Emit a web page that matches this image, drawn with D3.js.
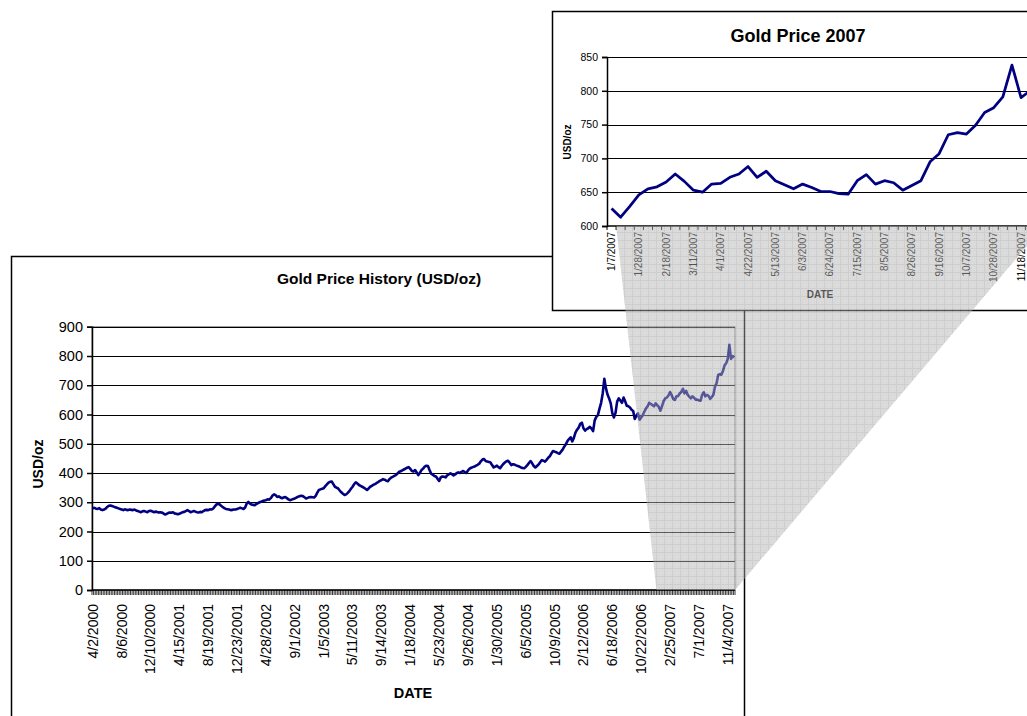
<!DOCTYPE html>
<html lang="en">
<head>
<meta charset="UTF-8">
<title>Gold Price History</title>
<script src="https://d3js.org/d3.v7.min.js"></script>
<style>
  body { margin: 0; background: #fff; }
  svg { display: block; font-family: "Liberation Sans", Arial, sans-serif; }
</style>
</head>
<body>
<script>
// weekly gold price, USD/oz (weeks starting 4/2/2000)
const prices2000 = [279, 281, 278, 277, 280, 275, 273, 275, 278, 284, 288, 289, 287, 285, 283, 281, 279, 277, 275, 273,
  276, 274, 273, 275, 274, 273, 275, 272, 270, 268, 266, 269, 270, 268, 266, 270, 271, 269, 266, 268];
const prices2001 = [267, 265, 266, 265, 262, 258, 260, 263, 265, 264, 266, 262, 261, 259, 261, 263, 266, 267, 270, 273,
  270, 266, 268, 270, 268, 266, 265, 267, 266, 270, 273, 274, 273, 276, 275, 278, 285, 292, 294, 293,
  288, 284, 280, 277, 276, 275, 273, 274, 275, 275, 277, 279];
const prices2002 = [281, 279, 277, 282, 296, 301, 295, 292, 291, 290, 294, 297, 300, 302, 304, 306, 307, 310, 309, 314,
  322, 327, 324, 318, 320, 316, 314, 316, 318, 314, 310, 307, 309, 311, 313, 316, 319, 321, 322, 321,
  317, 313, 315, 317, 318, 317, 316, 322, 333, 342, 344, 346];
const prices2003 = [348, 355, 361, 367, 370, 371, 362, 353, 350, 347, 340, 334, 329, 325, 327, 332, 338, 346, 353, 362,
  368, 364, 359, 356, 353, 350, 346, 342, 347, 353, 356, 360, 362, 366, 369, 373, 376, 379, 377, 374,
  372, 379, 384, 387, 390, 393, 398, 404, 406, 409, 412, 415];
const prices2004 = [418, 420, 414, 407, 405, 410, 402, 393, 401, 410, 415, 422, 425, 424, 410, 398, 394, 390, 388, 380,
  373, 385, 388, 387, 385, 392, 395, 399, 396, 392, 395, 400, 402, 400, 404, 407, 403, 400, 409, 415,
  418, 420, 422, 425, 428, 432, 440, 446, 448, 441, 439, 438];
const prices2005 = [436, 427, 419, 422, 425, 420, 416, 424, 431, 436, 440, 442, 435, 427, 430, 429, 426, 424, 422, 419,
  417, 416, 421, 427, 434, 441, 433, 424, 419, 424, 429, 437, 444, 442, 439, 445, 452, 457, 467, 475,
  473, 471, 468, 466, 473, 480, 490, 498, 509, 516, 522, 508];
const prices2006 = [520, 538, 548, 555, 568, 572, 553, 545, 550, 553, 558, 552, 543, 580, 592, 598, 620, 640, 672, 722,
  690, 668, 655, 638, 604, 590, 606, 644, 655, 648, 640, 658, 645, 630, 628, 624, 616, 612, 585, 596,
  604, 582, 590, 598, 610, 621, 628, 640, 636, 632, 628, 638, 632];
const prices2007 = [626, 613, 629, 646, 655, 658, 665, 677, 666, 653, 650, 662, 663, 672, 677, 688, 672, 681, 667, 661,
  655, 662, 657, 651, 651, 648, 647, 667, 676, 662, 667, 664, 653, 660, 667, 695, 707, 735, 738, 736,
  749, 768, 775, 791, 838, 790, 800, 795];

const mainTickLabels = ["4/2/2000", "8/6/2000", "12/10/2000", "4/15/2001", "8/19/2001", "12/23/2001", "4/28/2002",
  "9/1/2002", "1/5/2003", "5/11/2003", "9/14/2003", "1/18/2004", "5/23/2004", "9/26/2004", "1/30/2005",
  "6/5/2005", "10/9/2005", "2/12/2006", "6/18/2006", "10/22/2006", "2/25/2007", "7/1/2007", "11/4/2007"];
const insetTickLabels = ["1/7/2007", "1/28/2007", "2/18/2007", "3/11/2007", "4/1/2007", "4/22/2007", "5/13/2007",
  "6/3/2007", "6/24/2007", "7/15/2007", "8/5/2007", "8/26/2007", "9/16/2007", "10/7/2007", "10/28/2007", "11/18/2007"];
const mainYTicks = [0, 100, 200, 300, 400, 500, 600, 700, 800, 900];
const insetYTicks = [600, 650, 700, 750, 800, 850];

const fmt = d3.timeFormat("%-m/%-d/%Y");
const firstWeek = new Date(2000, 3, 2);
const prices = [].concat(prices2000, prices2001, prices2002, prices2003, prices2004, prices2005, prices2006, prices2007);
const weeks = prices.map((p, i) => fmt(d3.timeWeek.offset(firstWeek, i)));
const data = weeks.map((w, i) => ({week: w, value: prices[i]}));
const data2007 = data.slice(weeks.indexOf("1/7/2007"));

const navy = "#000080";

const svg = d3.select("body").append("svg")
    .attr("width", 1027)
    .attr("height", 716);

const defs = svg.append("defs");
const pat = defs.append("pattern")
    .attr("id", "hatch")
    .attr("patternUnits", "userSpaceOnUse")
    .attr("width", 8).attr("height", 8);
pat.append("rect").attr("width", 8).attr("height", 8).attr("fill", "#b6b6b6");
pat.append("path").attr("d", "M0,0.5H8M0.5,0V8").attr("stroke", "#9c9c9c").attr("stroke-width", 1);
pat.append("path").attr("d", "M3,3h1v1h-1zM6,6h1v1h-1zM2,6h1v1h-1zM6,2h1v1h-1z").attr("fill", "#a4a4a4");

// ---------- main chart ----------
const main = svg.append("g");
main.append("rect")
    .attr("x", 11.5).attr("y", 256.5)
    .attr("width", 733).attr("height", 480)
    .attr("fill", "#fff").attr("stroke", "#000").attr("stroke-width", 1.5);

main.append("text")
    .attr("x", 379).attr("y", 284)
    .attr("text-anchor", "middle")
    .attr("font-size", 15.5).attr("font-weight", "bold")
    .text("Gold Price History (USD/oz)");

const x = d3.scaleBand().domain(weeks).range([92, 735]);
const y = d3.scaleLinear().domain([0, 900]).range([590, 326.75]);

main.append("rect")
    .attr("x", 92).attr("y", y(900))
    .attr("width", 735 - 92).attr("height", y(0) - y(900))
    .attr("fill", "none").attr("stroke", "#808080");

main.selectAll(".grid")
    .data(mainYTicks.filter(d => d > 0))
    .enter()
    .append("line")
    .attr("x1", 92).attr("x2", 735)
    .attr("y1", d => Math.round(y(d)) + 0.5)
    .attr("y2", d => Math.round(y(d)) + 0.5)
    .attr("stroke", "#000");

const yAxis = main.append("g")
    .attr("transform", "translate(92,0)")
    .call(d3.axisLeft(y).tickValues(mainYTicks).tickSize(5).tickPadding(4));
yAxis.attr("font-size", 14.5).attr("font-family", null);
yAxis.selectAll("text").attr("fill", "#000");
yAxis.selectAll("line, path").attr("stroke", "#000").attr("stroke-width", 1.5);

// one tick per week
main.selectAll(".xtick")
    .data(weeks.concat(["end"]))
    .enter()
    .append("line")
    .attr("x1", d => d === "end" ? 735 : x(d))
    .attr("x2", d => d === "end" ? 735 : x(d))
    .attr("y1", y(0)).attr("y2", y(0) + 5)
    .attr("stroke", "#000").attr("stroke-width", 0.8);
main.append("line")
    .attr("x1", 92).attr("x2", 735)
    .attr("y1", y(0)).attr("y2", y(0))
    .attr("stroke", "#000").attr("stroke-width", 1.5);

main.selectAll(".xlabel")
    .data(mainTickLabels)
    .enter()
    .append("text")
    .attr("transform", d => "translate(" + (x(d) + x.bandwidth() / 2) + ",604) rotate(-90)")
    .attr("dy", "0.35em")
    .attr("text-anchor", "end")
    .attr("font-size", 14)
    .text(d => d);

main.append("text")
    .attr("x", 413).attr("y", 698)
    .attr("text-anchor", "middle")
    .attr("font-size", 14.5).attr("font-weight", "bold")
    .text("DATE");
main.append("text")
    .attr("transform", "translate(38,464) rotate(-90)")
    .attr("dy", "0.35em")
    .attr("text-anchor", "middle")
    .attr("font-size", 14).attr("font-weight", "bold")
    .text("USD/oz");

main.append("path")
    .datum(data)
    .attr("fill", "none")
    .attr("stroke", navy)
    .attr("stroke-width", 2.6)
    .attr("stroke-linejoin", "round")
    .attr("d", d3.line().x(d => x(d.week) + x.bandwidth() / 2).y(d => y(d.value)));

// ---------- 2007 inset ----------
const inset = svg.append("g");
inset.append("rect")
    .attr("x", 552.5).attr("y", 11.5)
    .attr("width", 500).attr("height", 299)
    .attr("fill", "#fff").attr("stroke", "#000").attr("stroke-width", 1.5);

inset.append("text")
    .attr("x", 798).attr("y", 42)
    .attr("text-anchor", "middle")
    .attr("font-size", 18).attr("font-weight", "bold")
    .text("Gold Price 2007");

const xi = d3.scaleBand().domain(data2007.map(d => d.week)).range([607, 607 + data2007.length * 9.1]);
const yi = d3.scaleLinear().domain([600, 850]).range([226, 57]);

inset.selectAll(".grid")
    .data(insetYTicks.filter(d => d > 600))
    .enter()
    .append("line")
    .attr("x1", 607).attr("x2", xi.range()[1])
    .attr("y1", d => Math.round(yi(d)) + 0.5)
    .attr("y2", d => Math.round(yi(d)) + 0.5)
    .attr("stroke", "#000");

const yiAxis = inset.append("g")
    .attr("transform", "translate(607,0)")
    .call(d3.axisLeft(yi).tickValues(insetYTicks).tickSize(5).tickPadding(4));
yiAxis.attr("font-size", 10.5).attr("font-family", null);
yiAxis.selectAll("text").attr("fill", "#000");
yiAxis.selectAll("line, path").attr("stroke", "#000").attr("stroke-width", 1.5);

inset.selectAll(".xtick")
    .data(xi.domain())
    .enter()
    .append("line")
    .attr("x1", d => xi(d)).attr("x2", d => xi(d))
    .attr("y1", yi(600)).attr("y2", yi(600) + 4)
    .attr("stroke", "#000");
inset.append("line")
    .attr("x1", 607).attr("x2", xi.range()[1])
    .attr("y1", yi(600)).attr("y2", yi(600))
    .attr("stroke", "#000").attr("stroke-width", 1.5);

inset.selectAll(".xlabel")
    .data(insetTickLabels)
    .enter()
    .append("text")
    .attr("transform", d => "translate(" + (xi(d) + xi.bandwidth() / 2) + ",232) rotate(-90)")
    .attr("dy", "0.35em")
    .attr("text-anchor", "end")
    .attr("font-size", 10)
    .text(d => d);

inset.append("text")
    .attr("x", 820).attr("y", 298)
    .attr("text-anchor", "middle")
    .attr("font-size", 10).attr("font-weight", "bold")
    .text("DATE");
inset.append("text")
    .attr("transform", "translate(567,142) rotate(-90)")
    .attr("dy", "0.35em")
    .attr("text-anchor", "middle")
    .attr("font-size", 10).attr("font-weight", "bold")
    .text("USD/oz");

inset.append("path")
    .datum(data2007)
    .attr("fill", "none")
    .attr("stroke", navy)
    .attr("stroke-width", 2.75)
    .attr("stroke-linejoin", "round")
    .attr("d", d3.line().x(d => xi(d.week) + xi.bandwidth() / 2).y(d => yi(d.value)));

// ---------- zoom connector ----------
const zoomPoly = [
    [xi("1/7/2007") + xi.bandwidth(), yi(600)],
    [xi.range()[1], yi(600)],
    [735, y(0)],
    [x("12/31/2006"), y(0)]
];
svg.append("polygon")
    .attr("points", zoomPoly.map(p => p.join(",")).join(" "))
    .attr("fill", "url(#hatch)")
    .attr("opacity", 0.5);
</script>
</body>
</html>
